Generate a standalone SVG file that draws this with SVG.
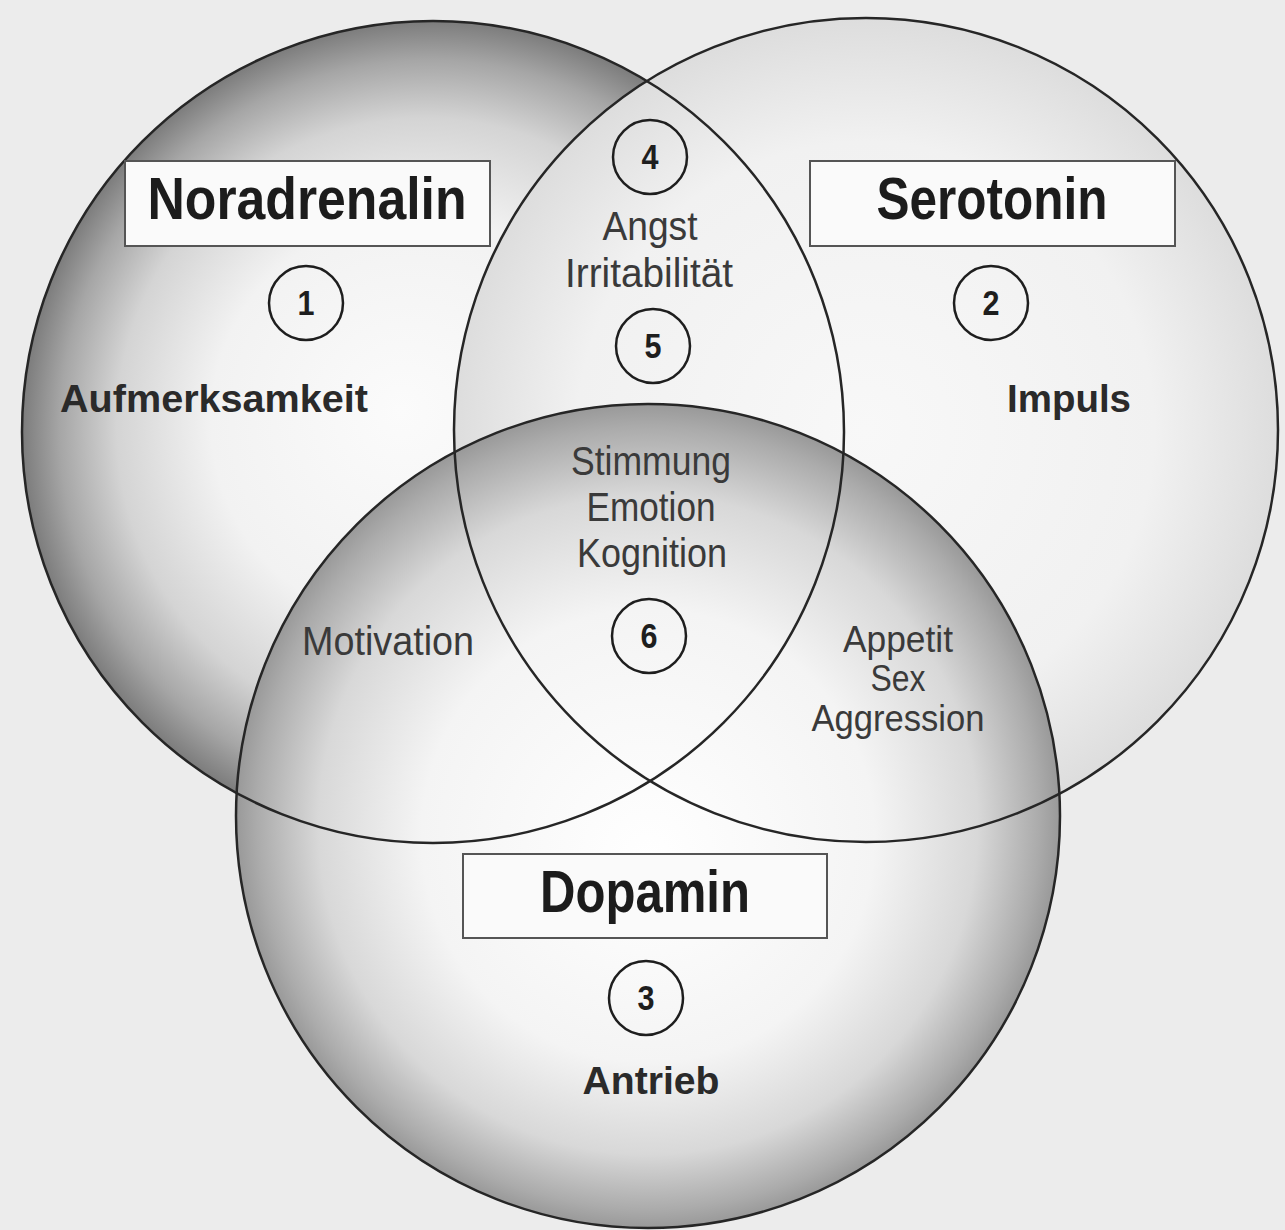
<svg xmlns="http://www.w3.org/2000/svg" width="1285" height="1230" viewBox="0 0 1285 1230">
<style>
.outline{fill:none;stroke:#262626;stroke-width:2.5}
.box{fill:#fafafa;stroke:#555;stroke-width:2}
.title{font-family:"Liberation Sans",Arial,sans-serif;font-weight:bold;font-size:59px;fill:#1c1c1c;text-anchor:middle}
.bold{font-family:"Liberation Sans",Arial,sans-serif;font-weight:bold;font-size:39px;fill:#2a2a2a;text-anchor:middle}
.reg{font-family:"Liberation Sans",Arial,sans-serif;font-size:40px;fill:#3a3a3a;text-anchor:middle}
.sm{font-size:37px}
.badge{fill:none;stroke:#1e1e1e;stroke-width:2.5}
.num{font-family:"Liberation Sans",Arial,sans-serif;font-weight:bold;font-size:35px;fill:#1e1e1e;text-anchor:middle}
</style>
<defs>
<radialGradient id="gN" gradientUnits="userSpaceOnUse" cx="433" cy="432" r="411" fx="400" fy="410">
<stop offset="0" stop-color="#fbfbfb"/>
<stop offset="0.5" stop-color="#f2f2f2"/>
<stop offset="0.75" stop-color="#d4d4d4"/>
<stop offset="0.9" stop-color="#a6a6a6"/>
<stop offset="1" stop-color="#7c7c7c"/>
</radialGradient>
<radialGradient id="gS" gradientUnits="userSpaceOnUse" cx="866" cy="430" r="412">
<stop offset="0" stop-color="#f8f8f8"/>
<stop offset="0.7" stop-color="#f1f1f1"/>
<stop offset="1" stop-color="#dddddd"/>
</radialGradient>
<radialGradient id="gD" gradientUnits="userSpaceOnUse" cx="648" cy="816" r="412" fx="648" fy="860">
<stop offset="0" stop-color="#ffffff"/>
<stop offset="0.55" stop-color="#f4f4f4"/>
<stop offset="0.8" stop-color="#d8d8d8"/>
<stop offset="0.95" stop-color="#ababab"/>
<stop offset="1" stop-color="#999999"/>
</radialGradient>
</defs>
<rect x="0" y="0" width="1285" height="1230" fill="#ececec"/>
<circle cx="433" cy="432" r="411" fill="url(#gN)"/>
<circle cx="866" cy="430" r="412" fill="url(#gS)"/>
<circle cx="648" cy="816" r="412" fill="url(#gD)"/>
<g id="connectors">
<circle class="outline" cx="433" cy="432" r="411"/>
<circle class="outline" cx="866" cy="430" r="412"/>
<circle class="outline" cx="648" cy="816" r="412"/>
</g>
<g id="noradrenalin">
<rect class="box" x="125" y="161" width="365" height="85"/>
<text class="title" x="307" y="219" textLength="319" lengthAdjust="spacingAndGlyphs">Noradrenalin</text>
<circle class="badge" cx="306" cy="303" r="37"/>
<text class="num" x="306" y="315" textLength="17" lengthAdjust="spacingAndGlyphs">1</text>
<text class="bold" x="214" y="412" textLength="308" lengthAdjust="spacingAndGlyphs">Aufmerksamkeit</text>
</g>
<g id="serotonin">
<rect class="box" x="810" y="161" width="365" height="85"/>
<text class="title" x="992" y="219" textLength="231" lengthAdjust="spacingAndGlyphs">Serotonin</text>
<circle class="badge" cx="991" cy="303" r="37"/>
<text class="num" x="991" y="315" textLength="17" lengthAdjust="spacingAndGlyphs">2</text>
<text class="bold" x="1069" y="412" textLength="124" lengthAdjust="spacingAndGlyphs">Impuls</text>
</g>
<g id="dopamin">
<rect class="box" x="463" y="854" width="364" height="84"/>
<text class="title" x="645" y="912" textLength="210" lengthAdjust="spacingAndGlyphs">Dopamin</text>
<circle class="badge" cx="646" cy="998" r="37"/>
<text class="num" x="646" y="1010" textLength="17" lengthAdjust="spacingAndGlyphs">3</text>
<text class="bold" x="651" y="1094" textLength="137" lengthAdjust="spacingAndGlyphs">Antrieb</text>
</g>
<g id="noradrenalin-serotonin">
<circle class="badge" cx="650" cy="157" r="37"/>
<text class="num" x="650" y="169" textLength="17" lengthAdjust="spacingAndGlyphs">4</text>
<text class="reg" x="650" y="240" textLength="95" lengthAdjust="spacingAndGlyphs">Angst</text>
<text class="reg" x="649" y="287" textLength="168" lengthAdjust="spacingAndGlyphs">Irritabilität</text>
<circle class="badge" cx="653" cy="346" r="37"/>
<text class="num" x="653" y="358" textLength="17" lengthAdjust="spacingAndGlyphs">5</text>
</g>
<g id="all-three">
<text class="reg" x="651" y="475" textLength="160" lengthAdjust="spacingAndGlyphs">Stimmung</text>
<text class="reg" x="651" y="521" textLength="129" lengthAdjust="spacingAndGlyphs">Emotion</text>
<text class="reg" x="652" y="567" textLength="150" lengthAdjust="spacingAndGlyphs">Kognition</text>
<circle class="badge" cx="649" cy="636" r="37"/>
<text class="num" x="649" y="648" textLength="17" lengthAdjust="spacingAndGlyphs">6</text>
</g>
<g id="noradrenalin-dopamin">
<text class="reg" x="388" y="655" textLength="172" lengthAdjust="spacingAndGlyphs">Motivation</text>
</g>
<g id="serotonin-dopamin">
<text class="reg sm" x="898" y="652" textLength="110" lengthAdjust="spacingAndGlyphs">Appetit</text>
<text class="reg sm" x="898" y="691" textLength="55" lengthAdjust="spacingAndGlyphs">Sex</text>
<text class="reg sm" x="898" y="731" textLength="173" lengthAdjust="spacingAndGlyphs">Aggression</text>
</g>
</svg>
